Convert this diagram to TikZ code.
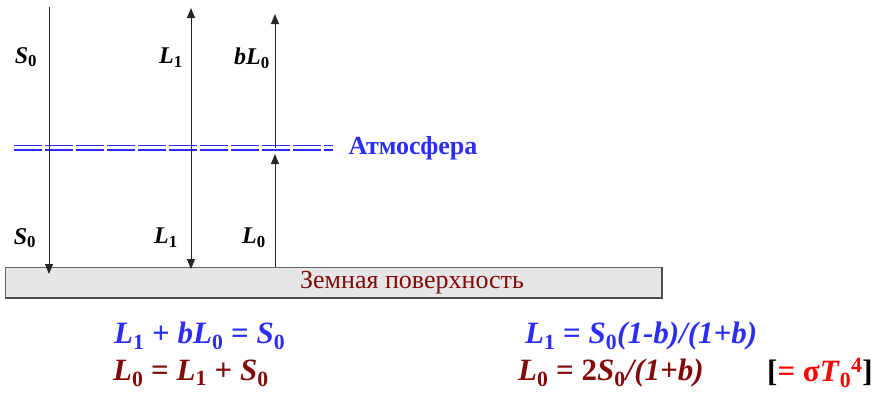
\documentclass[tikz,border=0pt]{standalone}
\usepackage{fontspec}
\setmainfont{Liberation Serif}
\usetikzlibrary{arrows.meta}
\definecolor{atmblue}{RGB}{45,45,250}
\definecolor{earthred}{RGB}{130,10,10}
\definecolor{groundgray}{RGB}{230,230,230}
\newcommand{\fsym}[2]{\textit{#1}\textsubscript{#2}}
\tikzset{
  flux/.style={draw=black!85, line width=1pt, -{Triangle[length=10pt,width=8pt]}},
  lbl/.style={font=\fontsize{24}{26}\selectfont\bfseries},
  eqn/.style={font=\fontsize{31}{33}\selectfont\bfseries, anchor=west, inner sep=0pt},
}
\begin{document}
\begin{tikzpicture}[x=1pt,y=-1pt]
\useasboundingbox (0,0) rectangle (879,394);

\coordinate (Stop) at (49,7);
\coordinate (Sbot) at (49,274);
\coordinate (Ltop) at (191,8);
\coordinate (Latm) at (191,148);
\coordinate (Lbot) at (191,269);
\coordinate (Gtop) at (275,14);
\coordinate (Gatm) at (275,148);
\coordinate (Gatmb) at (275,154);
\coordinate (Gbot) at (275,267);
\coordinate (A1) at (14,145.5);
\coordinate (A2) at (333,145.5);
\coordinate (B1) at (14,150);
\coordinate (B2) at (333,150);

% ground
\fill[groundgray] (5,267) rectangle (662,298);
\draw[black!60, line width=0.6pt] (5,298) -- (5,267) -- (662,267);
\draw[black!70, line width=1.8pt] (5,298) -- (662,298) -- (662,267);
\node[font=\fontsize{26}{28}\selectfont, text=earthred] (ground) at (412,283) {Земная поверхность};

% atmosphere
\draw[atmblue, line width=1.2pt, dash pattern=on 28pt off 3pt] (A1) -- (A2);
\draw[atmblue, line width=1.2pt, dash pattern=on 28pt off 3pt] (B1) -- (B2);
\node[font=\fontsize{26}{28}\selectfont\bfseries, text=atmblue, anchor=west] (atm) at (345,148) {Атмосфера};

% fluxes
\draw[flux] (Stop) -- (Sbot);
\draw[flux] (Latm) -- (Ltop);
\draw[flux] (Latm) -- (Lbot);
\draw[flux] (Gbot) -- (Gatmb);
\draw[flux] (Gatm) -- (Gtop);

\node[lbl] (s0up) at (26,57) {\fsym{S}{0}};
\node[lbl] (l1up) at (171,58) {\fsym{L}{1}};
\node[lbl] (bl0up) at (252,58) {\textit{b}\fsym{L}{0}};
\node[lbl] (s0dn) at (25,238) {\fsym{S}{0}};
\node[lbl] (l1dn) at (166,238) {\fsym{L}{1}};
\node[lbl] (l0dn) at (254,238) {\fsym{L}{0}};

% equations
\node[eqn, text=atmblue] (eq1) at (114,336) {\fsym{L}{1} + \textit{b}\fsym{L}{0} = \fsym{S}{0}};
\node[eqn, text=earthred] (eq2) at (113,373) {\fsym{L}{0} = \fsym{L}{1} + \fsym{S}{0}};
\node[eqn, text=atmblue] (eq3) at (525,336) {\fsym{L}{1} = \fsym{S}{0}\textit{(1-b)/(1+b)}};
\node[eqn, text=earthred] (eq4) at (518,373) {\fsym{L}{0} = 2\fsym{S}{0}\textit{/(1+b)}};
\node[eqn] (eq5) at (767,373) {[\textcolor{red}{= σ\fsym{T}{0}\textsuperscript{4}}]};
\end{tikzpicture}
\end{document}
